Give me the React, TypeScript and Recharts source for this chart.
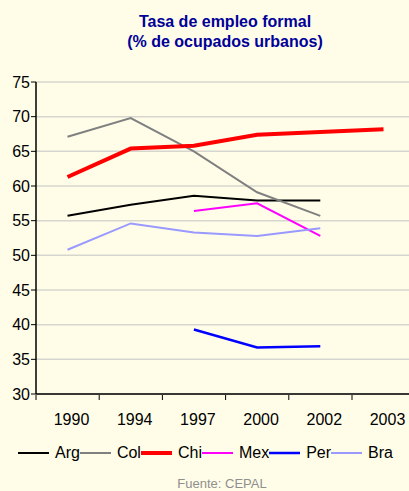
import React from "react";
import { LineChart, Line, XAxis, YAxis, CartesianGrid, Legend } from "recharts";

const years = ["1990", "1994", "1997", "2000", "2002", "2003"];
const arg = [55.7, 57.3, 58.6, 57.9, 57.9, null];
const col = [67.1, 69.8, 65.0, 59.1, 55.7, null];
const chi = [61.3, 65.4, 65.8, 67.4, 67.8, 68.2];
const mex = [null, null, 56.4, 57.5, 52.8, null];
const per = [null, null, 39.3, 36.7, 36.9, null];
const bra = [50.8, 54.6, 53.3, 52.8, 53.9, null];
const yTicks = [30, 35, 40, 45, 50, 55, 60, 65, 70, 75];

const series = [
  { key: "Arg", values: arg, color: "#000000", width: 2 },
  { key: "Col", values: col, color: "#808080", width: 2 },
  { key: "Chi", values: chi, color: "#FF0000", width: 4 },
  { key: "Mex", values: mex, color: "#FF00FF", width: 2 },
  { key: "Per", values: per, color: "#0000FF", width: 2.5 },
  { key: "Bra", values: bra, color: "#9999FF", width: 2 },
];

const data = years.map((y, i) => {
  const row: any = { year: y };
  series.forEach((s) => {
    row[s.key] = s.values[i];
  });
  return row;
});

const FONT = "'Liberation Sans', Arial, sans-serif";
const HALF = 31.5;

const XTick = (props: any) => {
  const { x, y, payload } = props;
  return (
    <g>
      <line x1={x - HALF} x2={x - HALF} y1={y - 7} y2={y - 2} stroke="#000" strokeWidth={1} />
      <text x={x + 4} y={y + 23} textAnchor="middle" fontSize={16} fontFamily={FONT} fill="#000">
        {payload.value}
      </text>
    </g>
  );
};

const LegendContent = () => (
  <div style={{ fontFamily: FONT, width: 415 }}>
    <div style={{ display: "flex", justifyContent: "center", alignItems: "center", height: 18, paddingRight: 4 }}>
      {series.map((s) => (
        <div key={s.key} style={{ display: "flex", alignItems: "center" }}>
          <svg width={31} height={8} style={{ marginRight: 6 }}>
            <line x1={0} x2={31} y1={4} y2={4} stroke={s.color} strokeWidth={s.width} />
          </svg>
          <span style={{ fontSize: 16, color: "#000", lineHeight: "18px" }}>{s.key}</span>
        </div>
      ))}
    </div>
  </div>
);

export default function App() {
  return (
    <div
      style={{
        position: "fixed",
        left: 0,
        top: 0,
        width: 409,
        height: 491,
        overflow: "hidden",
        background: "#FFFDE8",
      }}
    >
      <div
        style={{
          position: "absolute",
          left: 0,
          top: 12,
          width: 450,
          textAlign: "center",
          fontFamily: FONT,
          fontWeight: "bold",
          fontSize: 16,
          lineHeight: "20px",
          color: "#000099",
        }}
      >
        Tasa de empleo formal
        <br />
        (% de ocupados urbanos)
      </div>
      <LineChart
        width={415}
        height={491}
        data={data}
        margin={{ top: 82, right: 0, bottom: 0, left: 0 }}
      >
        <CartesianGrid vertical={false} stroke="#D6D6CE" strokeWidth={1.5} />
        <XAxis
          dataKey="year"
          height={50}
          padding={{ left: HALF, right: HALF }}
          tickLine={false}
          axisLine={{ stroke: "#000", strokeWidth: 1.5 }}
          tick={<XTick />}
          interval={0}
        />
        <YAxis
          width={36}
          domain={[30, 75]}
          ticks={yTicks}
          interval={0}
          tickSize={5}
          tickMargin={1}
          axisLine={{ stroke: "#000", strokeWidth: 1.5 }}
          tickLine={{ stroke: "#000" }}
          tick={{ fontSize: 16, fontFamily: FONT, fill: "#000" }}
        />
        {series.map((s) => (
          <Line
            key={s.key}
            dataKey={s.key}
            stroke={s.color}
            strokeWidth={s.width}
            dot={false}
            activeDot={false}
            isAnimationActive={false}
            connectNulls={false}
          />
        ))}
        <Legend verticalAlign="bottom" height={47} content={<LegendContent />} />
      </LineChart>
      <div
        style={{
          position: "absolute",
          left: 0,
          top: 476,
          width: 444,
          textAlign: "center",
          fontFamily: FONT,
          fontSize: 13,
          lineHeight: "15px",
          color: "#8f8f8f",
          zIndex: 5,
        }}
      >
        Fuente: CEPAL
      </div>
    </div>
  );
}
